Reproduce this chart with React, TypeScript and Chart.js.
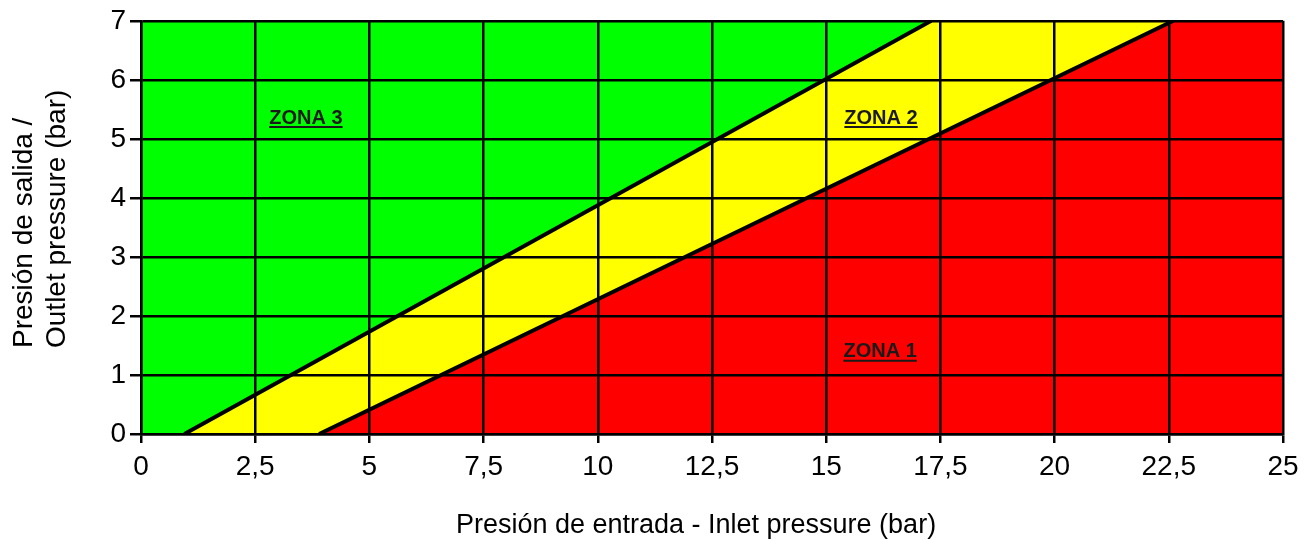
import { useEffect, useRef } from "react";
import { Chart, registerables } from "chart.js";

Chart.register(...registerables);

// ---- data ----
const xTickValues = [0, 2.5, 5, 7.5, 10, 12.5, 15, 17.5, 20, 22.5, 25];
const yTickValues = [0, 1, 2, 3, 4, 5, 6, 7];
const xMin = 0;
const xMax = 25;
const yMin = 0;
const yMax = 7;

// boundary between ZONA 3 (green) and ZONA 2 (yellow)
const boundary32X = [0.95, 17.3];
const boundary32Y = [0, 7];
// boundary between ZONA 2 (yellow) and ZONA 1 (red)
const boundary21X = [3.9, 22.6];
const boundary21Y = [0, 7];

const zoneNames = ["ZONA 3", "ZONA 2", "ZONA 1"];
const zoneX = [3.61, 16.2, 16.18];
const zoneY = [5.26, 5.26, 1.3];

const xTitle = "Presión de entrada - Inlet pressure (bar)";
const yTitle = ["Presión de salida /", "Outlet pressure (bar)"];

const GREEN = "#00ff00";
const YELLOW = "#ffff00";
const RED = "#ff0000";
const FONT = "'Liberation Sans', Arial, sans-serif";

const pts = (xs: number[], ys: number[]) => xs.map((x, i) => ({ x, y: ys[i] }));

const fmt = (v: number) => String(v).replace(".", ",");

const labelsPlugin = {
  id: "zoneAndTitles",
  afterDraw(chart: any) {
    const { ctx, scales } = chart;
    ctx.save();
    // zone labels
    ctx.font = `bold 20px ${FONT}`;
    ctx.fillStyle = "#1a1a1a";
    ctx.strokeStyle = "#1a1a1a";
    ctx.textAlign = "center";
    ctx.textBaseline = "alphabetic";
    zoneNames.forEach((name, i) => {
      const px = scales.x.getPixelForValue(zoneX[i]);
      const py = scales.y.getPixelForValue(zoneY[i]);
      ctx.fillText(name, px, py);
      const w = ctx.measureText(name).width;
      ctx.lineWidth = 2;
      ctx.beginPath();
      ctx.moveTo(px - w / 2, py + 3.5);
      ctx.lineTo(px + w / 2, py + 3.5);
      ctx.stroke();
    });
    // x title
    ctx.fillStyle = "#000";
    ctx.font = `27px ${FONT}`;
    ctx.textAlign = "center";
    ctx.fillText(xTitle, 696, 533);
    // y title (rotated, start aligned)
    ctx.font = `28px ${FONT}`;
    ctx.translate(0, 348);
    ctx.rotate(-Math.PI / 2);
    ctx.textAlign = "left";
    ctx.fillText(yTitle[0], 0, 32);
    ctx.fillText(yTitle[1], 0, 65);
    ctx.restore();
  },
};

export default function App() {
  const ref = useRef<HTMLCanvasElement>(null);

  useEffect(() => {
    document.body.style.margin = "0";
    const canvas = ref.current;
    if (!canvas) return;
    const chart = new Chart(canvas, {
      type: "line",
      data: {
        datasets: [
          {
            data: pts(boundary32X, boundary32Y),
            borderColor: "#000",
            borderWidth: 4,
            pointRadius: 0,
            fill: false,
          },
          {
            data: pts(boundary21X, boundary21Y),
            borderColor: "#000",
            borderWidth: 4,
            pointRadius: 0,
            fill: false,
          },
          {
            // ZONA 3 area: above the first boundary
            data: [{ x: xMin, y: yMin }, ...pts(boundary32X, boundary32Y), { x: xMax, y: yMax }],
            borderWidth: 0,
            pointRadius: 0,
            backgroundColor: GREEN,
            fill: "end",
          },
          {
            // ZONA 1 area: below the second boundary
            data: [...pts(boundary21X, boundary21Y), { x: xMax, y: yMax }],
            borderWidth: 0,
            pointRadius: 0,
            backgroundColor: RED,
            fill: "start",
          },
          {
            // ZONA 2 area: whole field behind
            data: [{ x: xMin, y: yMax }, { x: xMax, y: yMax }],
            borderWidth: 0,
            pointRadius: 0,
            backgroundColor: YELLOW,
            fill: "start",
          },
        ],
      },
      options: {
        animation: false,
        responsive: false,
        events: [],
        layout: { padding: { top: 20, right: 23, bottom: 0, left: 0 } },
        plugins: { legend: { display: false }, tooltip: { enabled: false } },
        scales: {
          x: {
            type: "linear",
            min: xMin,
            max: xMax,
            afterBuildTicks: (s: any) => {
              s.ticks = xTickValues.map((v) => ({ value: v }));
            },
            afterFit: (s: any) => {
              s.height = 106;
            },
            grid: { z: 1, color: "#000", lineWidth: 2.5, tickLength: 9, tickWidth: 2.5, tickColor: "#000" },
            border: { z: 1, display: true, color: "#000", width: 2.5 },
            ticks: {
              z: 1,
              color: "#000",
              font: { family: FONT, size: 28 },
              padding: 7,
              maxRotation: 0,
              autoSkip: false,
              callback: (v: any) => fmt(Number(v)),
            },
          },
          y: {
            type: "linear",
            min: yMin,
            max: yMax,
            afterBuildTicks: (s: any) => {
              s.ticks = yTickValues.map((v) => ({ value: v }));
            },
            afterFit: (s: any) => {
              s.width = 141;
            },
            grid: { z: 1, color: "#000", lineWidth: 2.5, tickLength: 11, tickWidth: 2.5, tickColor: "#000" },
            border: { z: 1, display: true, color: "#000", width: 2.5 },
            ticks: {
              z: 1,
              color: "#000",
              font: { family: FONT, size: 28 },
              padding: 4,
              autoSkip: false,
              callback: (v: any) => fmt(Number(v)),
            },
          },
        },
      },
      plugins: [labelsPlugin],
    });
    return () => chart.destroy();
  }, []);

  return (
    <div style={{ width: 1306, height: 540, background: "#fff" }}>
      <canvas ref={ref} width={1306} height={540} style={{ display: "block" }} />
    </div>
  );
}
